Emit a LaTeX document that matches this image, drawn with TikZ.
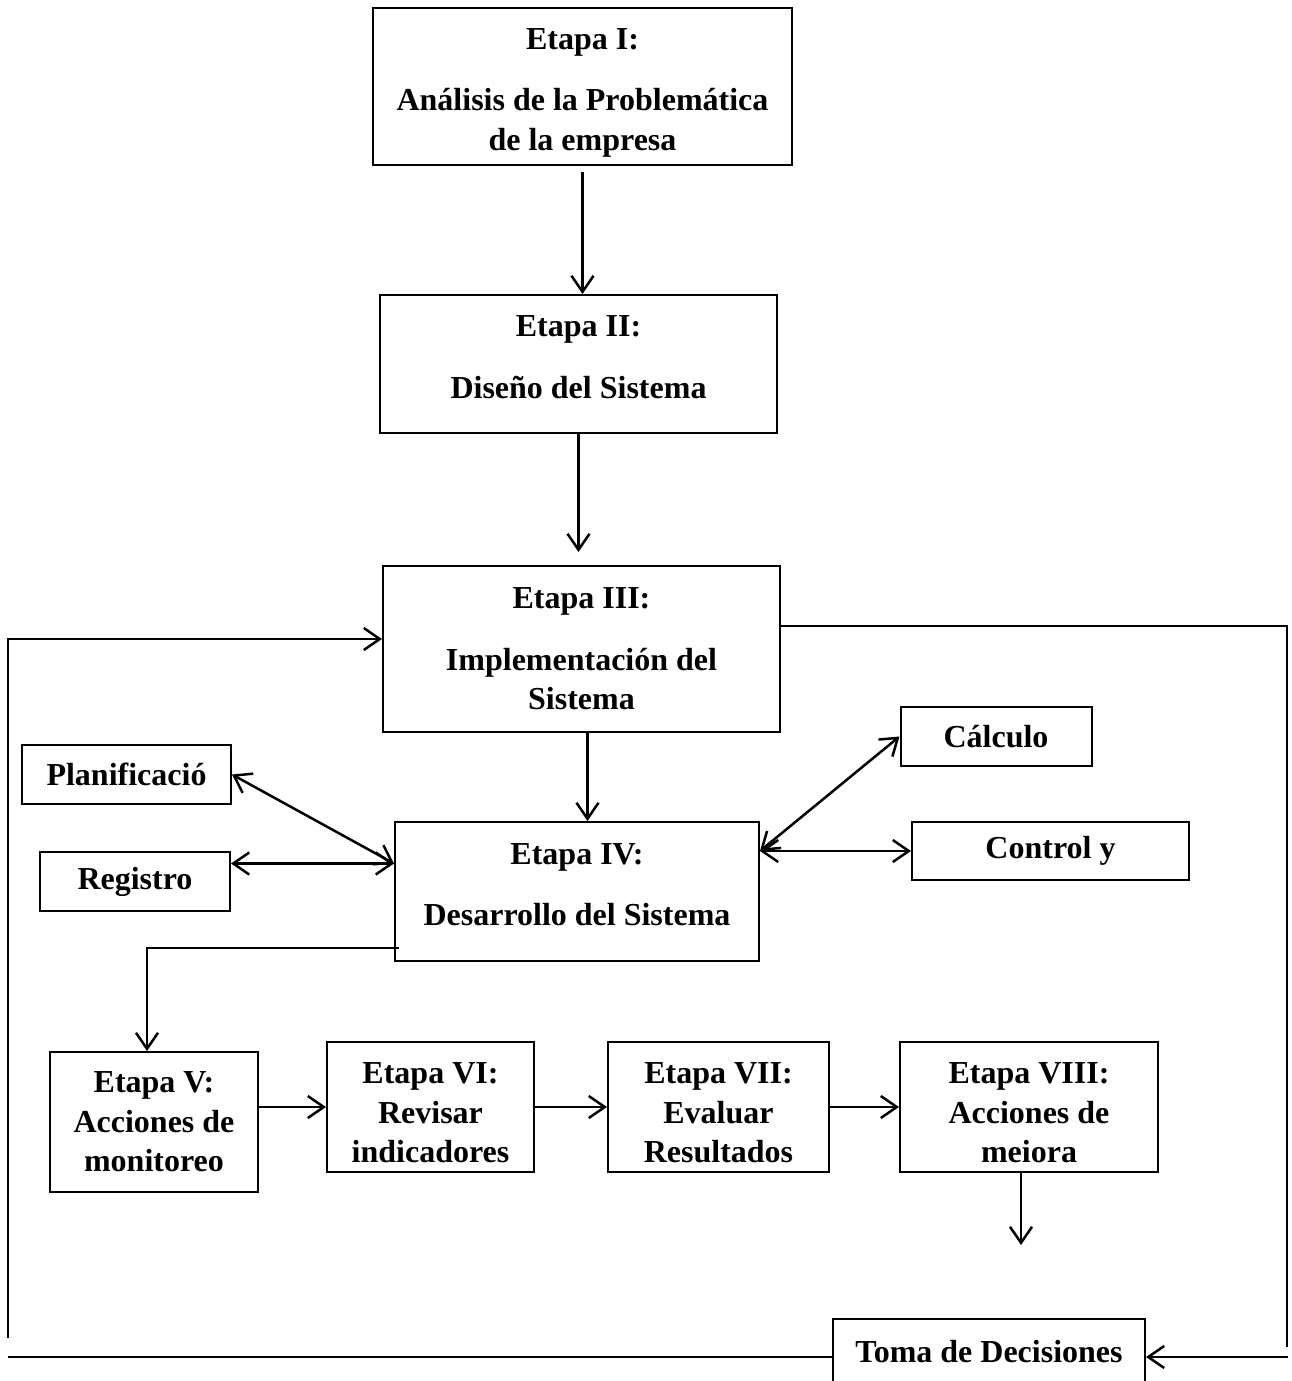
\documentclass[tikz,border=0pt]{standalone}
\usepackage{fontspec}
\setmainfont{Liberation Serif}
\usetikzlibrary{arrows.meta}
\newcommand{\altoup}{\rule{0pt}{33pt}}
\newcommand{\altodn}{\rule[-14pt]{0pt}{14pt}}
\tikzset{
	etapa/.style={draw, line width=2pt, align=center, inner sep=0pt, font=\bfseries\fontsize{32}{39.5}\selectfont},
	conn/.style={line width=2.5pt},
	arr/.style={conn, -{Straight Barb[length=16pt,width=22pt]}},
	darr/.style={conn, {Straight Barb[length=16pt,width=22pt]}-{Straight Barb[length=16pt,width=22pt]}}
}

\begin{document}
\begin{tikzpicture}[x=1pt, y=-1pt]
			%%%%% START %%%%%
			\useasboundingbox (0,0) rectangle (1291,1381);
			
			\node[etapa, minimum width=419pt, minimum height=156pt] (e1) at (582.5,86.5) {\altoup Etapa I:\\[22pt]Análisis de la Problemática\\de la empresa};
			\node[etapa, minimum width=397pt, minimum height=138pt] (e2) at (578.5,364) {Etapa II:\\[22pt]Diseño del Sistema\altodn};
			\node[etapa, minimum width=397pt, minimum height=166pt] (e3) at (581.5,649) {Etapa III:\\[22pt]Implementación del\\Sistema};
			\node[etapa, minimum width=364pt, minimum height=139pt] (e4) at (577,891.5) {Etapa IV:\\[22pt]Desarrollo del Sistema\altodn};
			
			\node[etapa, minimum width=209pt, minimum height=59pt] (plan) at (126.5,774.5) {Planificació};
			\node[etapa, minimum width=190pt, minimum height=59pt] (reg) at (135,881.5) {Registro};
			\node[etapa, minimum width=191pt, minimum height=59pt] (calc) at (996,736.5) {Cálculo};
			\node[etapa, minimum width=277pt, minimum height=58pt] (ctrl) at (1050.5,851) {Control y};
			
			\node[etapa, minimum width=208pt, minimum height=140pt] (e5) at (154,1122) {Etapa V:\\Acciones de\\monitoreo};
			\node[etapa, minimum width=207pt, minimum height=130pt] (e6) at (430.5,1107) {\altoup Etapa VI:\\Revisar\\indicadores};
			\node[etapa, minimum width=221pt, minimum height=130pt] (e7) at (718.5,1107) {\altoup Etapa VII:\\Evaluar\\Resultados};
			\node[etapa, minimum width=258pt, minimum height=130pt] (e8) at (1029,1107) {\altoup Etapa VIII:\\Acciones de\\meiora};
			
			\node[etapa, minimum width=312pt, minimum height=66pt] (toma) at (989,1352) {Toma de Decisiones};
			
			% etapas I a IV
			\draw[arr, shorten <=6pt] (e1.south) -- (e1.south |- e2.north);
			\draw[arr, shorten >=13pt] (e2.south) -- (e2.south |- e3.north);
			\coordinate (c34) at ([xshift=6pt]e3.south);
			\draw[arr] (c34) -- (c34 |- e4.north);
			
			% lazo de retorno
			\coordinate (loopbl) at (8,1338);
			\draw[arr] (loopbl) |- ([yshift=10pt]e3.west);
			\coordinate (basel) at (8,1357);
			\draw[conn] (basel) -- (basel -| toma.west);
			\coordinate (looptr) at (1287,1347);
			\draw[conn] ([yshift=23pt]e3.east) -| (looptr);
			\coordinate (baser) at (1288,1357);
			\draw[arr] (baser) -- (baser -| toma.east);
			
			% apoyos de la etapa IV
			\coordinate (e4l) at ([yshift=28pt]e4.west);
			\draw[darr] (plan.east) -- (e4l);
			\draw[darr] (reg.east |- e4l) -- (e4l);
			\coordinate (e4r) at (e4.east |- ctrl.west);
			\draw[darr] (e4r) -- (ctrl.west);
			\draw[darr] (e4r) -- (calc.west);
			
			% etapas V a VIII
			\coordinate (e4o) at ([xshift=5pt,yshift=-56.5pt]e4.west);
			\coordinate (e5i) at ([xshift=-7pt]e5.north);
			\draw[arr] (e4o) -| (e5i);
			\draw[arr] (e5.east |- e6.west) -- (e6.west);
			\draw[arr] (e6.east) -- (e7.west);
			\draw[arr] (e7.east) -- (e8.west);
			\coordinate (e8d) at (1021,1245);
			\draw[arr] (e8d |- e8.south) -- (e8d);
			
			%%%%% END %%%%%
\end{tikzpicture}
\end{document}
